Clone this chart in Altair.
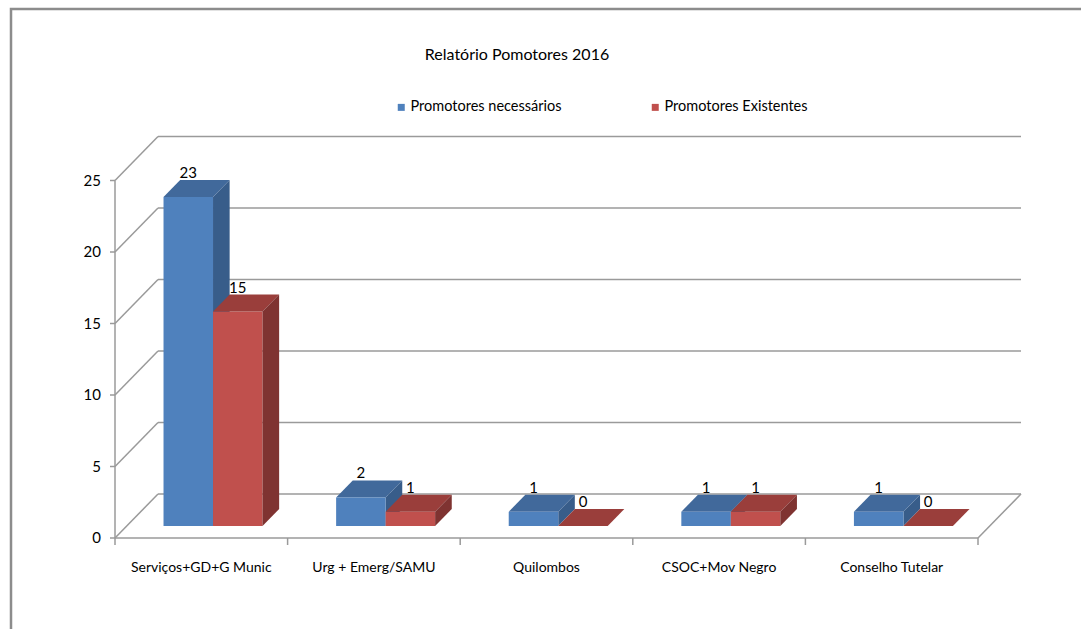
import altair as alt
import pandas as pd

# ---- data ----
categories = ["Serviços+GD+G Munic", "Urg + Emerg/SAMU", "Quilombos",
              "CSOC+Mov Negro", "Conselho Tutelar"]
series = ["Promotores necessários", "Promotores Existentes"]
necessarios = [23, 2, 1, 1, 1]
existentes = [15, 1, 0, 1, 0]
y_ticks = [0, 5, 10, 15, 20, 25]
title_text = ["Relatório Pomotores 2016"]

# face colours per series: front, top, side
front_col = ["#4F81BD", "#C0504D"]
top_col = ["#41699B", "#9A3E3B"]
side_col = ["#385D8A", "#7F3331"]
GRID = "#9A9A9A"
FONT = "Lato"

# ---- 3-D projection setup (category units on x, value units on y) ----
W, H = 1081, 629
PX_CAT, PX_VAL = 172.6, 14.3          # pixels per category / per unit
X_ORIGIN, Y_ORIGIN = 115, 538         # pixel position of (0, 0) on the front plane
DX = 43 / PX_CAT                      # shift from front plane to back wall
DY = 44 / PX_VAL
D_FRONT, D_BACK = 12 / 44, 29 / 44    # depth of the bars' front and back faces
BAR_W = 49.5 / PX_CAT
N = len(categories)

xs = alt.Scale(domain=[-X_ORIGIN / PX_CAT, (W - X_ORIGIN) / PX_CAT], nice=False, zero=False)
ys = alt.Scale(domain=[-(H - Y_ORIGIN) / PX_VAL, Y_ORIGIN / PX_VAL], nice=False, zero=False)

values = [necessarios, existentes]

front_rows, top_rows, side_rows, label_rows = [], [], [], []
for k, s in enumerate(series):
    for i, c in enumerate(categories):
        v = values[k][i]
        xl = i + 0.5 - BAR_W + k * BAR_W
        xr = xl + BAR_W
        fid = f"{k}-{i}"
        front_rows.append(dict(series=s, k=k, x=xl + D_FRONT * DX, x2=xr + D_FRONT * DX,
                               y=D_FRONT * DY, y2=v + D_FRONT * DY))
        for d in (D_FRONT, D_BACK):
            top_rows.append(dict(k=k, face=fid, y=v + d * DY, x=xl + d * DX, x2=xr + d * DX))
            side_rows.append(dict(k=k, face=fid, x=xr + d * DX, y=d * DY, y2=v + d * DY))
        label_rows.append(dict(k=k, x=xl + BAR_W / 2 + D_FRONT * DX, y=v + D_BACK * DY, t=str(v)))

front_df = pd.DataFrame(front_rows)
top_df = pd.DataFrame(top_rows)
side_df = pd.DataFrame(side_rows)
label_df = pd.DataFrame(label_rows)

# ---- walls, floor and axis lines ----
line_rows = []
for t in y_ticks:
    line_rows.append(dict(x=DX, x2=N + DX, y=t + DY, y2=t + DY))       # back wall grid
    line_rows.append(dict(x=0, x2=DX, y=t, y2=t + DY))                 # side wall diagonals
    line_rows.append(dict(x=-5 / PX_CAT, x2=0, y=t, y2=t))             # y ticks
line_rows.append(dict(x=0, x2=N, y=0, y2=0))                           # front floor edge
line_rows.append(dict(x=N, x2=N + DX, y=0, y2=DY))                     # right floor edge
line_rows.append(dict(x=0, x2=0, y=0, y2=y_ticks[-1]))                 # value axis
for i in range(N + 1):
    line_rows.append(dict(x=i, x2=i, y=0, y2=-7 / PX_VAL))             # category ticks
lines_df = pd.DataFrame(line_rows)

lines = alt.Chart(lines_df).mark_rule(color=GRID, strokeWidth=1.5).encode(
    x=alt.X("x:Q", scale=xs, axis=None), x2="x2:Q",
    y=alt.Y("y:Q", scale=ys, axis=None), y2="y2:Q",
)


def side_layer(k):
    return alt.Chart(side_df[side_df.k == k]).mark_area(
        orient="vertical", color=side_col[k]).encode(
        x=alt.X("x:Q", scale=xs, axis=None),
        y=alt.Y("y:Q", scale=ys, axis=None), y2="y2:Q",
        detail="face:N",
    )


def top_layer(k):
    return alt.Chart(top_df[top_df.k == k]).mark_area(
        orient="horizontal", color=top_col[k]).encode(
        y=alt.Y("y:Q", scale=ys, axis=None),
        x=alt.X("x:Q", scale=xs, axis=None), x2="x2:Q",
        detail="face:N",
    )


fronts = alt.Chart(front_df).mark_rect().encode(
    x=alt.X("x:Q", scale=xs, axis=None), x2="x2:Q",
    y=alt.Y("y:Q", scale=ys, axis=None), y2="y2:Q",
    color=alt.Color(
        "series:N",
        scale=alt.Scale(domain=series, range=front_col),
        legend=alt.Legend(
            title=None, orient="none", legendX=394, legendY=100,
            direction="horizontal", symbolType="square", symbolSize=49,
            symbolStrokeWidth=0, labelFontSize=14.5, labelFont=FONT,
            labelColor="#000000", labelOffset=2, labelLimit=0,
            columnPadding=86, padding=0,
        ),
    ),
)

value_labels = alt.Chart(label_df).mark_text(
    font=FONT, fontSize=15, color="#000000", baseline="middle", dy=-7).encode(
    x=alt.X("x:Q", scale=xs, axis=None),
    y=alt.Y("y:Q", scale=ys, axis=None),
    text="t:N",
)

ytick_labels = alt.Chart(pd.DataFrame({"v": y_ticks})).mark_text(
    font=FONT, fontSize=15, color="#000000", align="right", baseline="middle", dx=-14).encode(
    x=alt.value(X_ORIGIN),
    y=alt.Y("v:Q", scale=ys, axis=None),
    text="v:N",
)

cat_labels = alt.Chart(pd.DataFrame({"c": categories, "pos": [i + 0.5 for i in range(N)]})).mark_text(
    font=FONT, fontSize=14, color="#000000", baseline="middle").encode(
    x=alt.X("pos:Q", scale=xs, axis=None),
    y=alt.value(568),
    text="c:N",
)

title = alt.Chart(pd.DataFrame({"t": title_text})).mark_text(
    font=FONT, fontSize=16, color="#000000", baseline="middle").encode(
    x=alt.value(517), y=alt.value(55), text="t:N",
)

frame = alt.Chart(pd.DataFrame({"a": [0]})).mark_rect(
    filled=False, stroke="#8C8C8C", strokeWidth=2.5).encode(
    x=alt.value(11), x2=alt.value(W + 50), y=alt.value(9), y2=alt.value(H + 50),
)

chart = alt.layer(
    frame, lines,
    side_layer(0), top_layer(0),
    fronts,
    top_layer(1), side_layer(1),
    value_labels, ytick_labels, cat_labels, title,
).properties(
    width=W, height=H, padding=0, background="#FFFFFF",
    autosize=alt.AutoSizeParams(type="none"),
).configure_view(stroke=None)

chart.save("out.html", embed_options={"renderer": "svg", "actions": False})
